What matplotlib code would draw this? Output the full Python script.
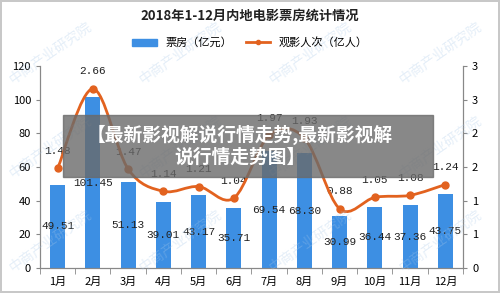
import matplotlib.pyplot as plt
import numpy as np
from matplotlib.path import Path
from matplotlib.patches import PathPatch, Patch, Rectangle
from matplotlib.lines import Line2D
from matplotlib.ticker import FuncFormatter

plt.rcParams['font.family'] = ['Noto Sans CJK SC', 'DejaVu Sans']

# data
months = ["1月", "2月", "3月", "4月", "5月", "6月", "7月", "8月", "9月", "10月", "11月", "12月"]
box_office = [49.51, 101.45, 51.13, 39.01, 43.17, 35.71, 69.54, 68.30, 30.99, 36.44, 37.36, 43.75]
viewers = [1.48, 2.66, 1.47, 1.14, 1.21, 1.04, 1.97, 1.93, 0.88, 1.05, 1.08, 1.24]

BAR_C = "#3d8fe3"
LINE_C = "#e2621f"

fig = plt.figure(figsize=(5, 2.93), dpi=100)
fig.patch.set_edgecolor("#c8c8c8")
fig.patch.set_linewidth(1.5)

ax = fig.add_axes([0.08, 0.085, 0.846, 0.69])
ax2 = ax.twinx()

x = np.arange(len(months))
ax.bar(x, box_office, width=0.43, color=BAR_C, zorder=2)
for xi, v in zip(x, box_office):
    ax.text(xi, v / 2, f"{v:.2f}", ha="center", va="center", fontsize=8,
            family="Liberation Mono", color="#222222", zorder=3)

ax.set_xlim(-0.5, len(months) - 0.5)
ax.set_ylim(0, 120)
ax.set_yticks(range(0, 121, 20))
ax.set_xticks(x)
ax.set_xticklabels(months, fontsize=8)
ax.set_xticks(np.arange(-0.5, len(months)), minor=True)
ax.tick_params(axis="x", which="major", length=0, pad=6)
ax.tick_params(axis="x", which="minor", length=4, color="#888888")
ax.tick_params(axis="y", labelsize=8, length=3, color="#888888")
for s in ["top"]:
    ax.spines[s].set_visible(False)
    ax2.spines[s].set_visible(False)
for s in ["left", "bottom", "right"]:
    ax.spines[s].set_color("#888888")
    ax2.spines[s].set_color("#888888")

# smoothed line drawn as bezier path through the data points
pts = np.column_stack([x, viewers]).astype(float)
verts = [pts[0]]
codes = [Path.MOVETO]
n = len(pts)
for i in range(n - 1):
    p0 = pts[max(i - 1, 0)]
    p1 = pts[i]
    p2 = pts[i + 1]
    p3 = pts[min(i + 2, n - 1)]
    verts += [p1 + (p2 - p0) / 6, p2 - (p3 - p1) / 6, p2]
    codes += [Path.CURVE4] * 3
ax2.add_patch(PathPatch(Path(verts, codes), fill=False, edgecolor=LINE_C, lw=2, zorder=4))
ax2.plot(x, viewers, "o", color=LINE_C, ms=5, zorder=5)
for xi, v in zip(x, viewers):
    ax2.annotate(f"{v:.2f}", (xi, v), xytext=(0, 9), textcoords="offset points",
                 ha="center", va="bottom", fontsize=8, family="Liberation Mono", color="#222222")

ax2.set_ylim(0, 3)
ax2.set_yticks(np.arange(0, 3.01, 0.5))
ax2.yaxis.set_major_formatter(FuncFormatter(lambda v, p: str(int(v + 0.5))))
ax2.tick_params(axis="y", labelsize=8, length=3, color="#888888")

fig.text(0.5, 0.945, "2018年1-12月内地电影票房统计情况", ha="center", va="center",
         fontsize=9.5, fontweight="bold", color="#222222")
handles = [Patch(color=BAR_C), Line2D([], [], color=LINE_C, lw=2, marker="o", ms=3)]
fig.legend(handles, ["票房（亿元）", "观影人次（亿人）"], loc="center", bbox_to_anchor=(0.5, 0.855),
           ncol=2, frameon=False, fontsize=8, handlelength=2.2, handleheight=0.6, columnspacing=1.2)

# watermarks
for wx in [0.1, 0.36, 0.62, 0.88]:
    for wy in [0.18, 0.5, 0.82]:
        fig.text(wx, wy, "中商产业研究院", rotation=35, fontsize=10,
                 color="#a8c8e8", alpha=0.3, ha="center", va="center", zorder=0)

# overlay banner
fig.patches.append(Rectangle((0.126, 0.396), 0.74, 0.212, transform=fig.transFigure,
                             color="#6a6a6a", alpha=0.8, zorder=10))
fig.text(0.48, 0.502, "【最新影视解说行情走势,最新影视解\n说行情走势图】", ha="center", va="center",
         fontsize=13.5, fontweight="bold", color="white", linespacing=1.2, zorder=11)

fig.savefig("out.png", dpi=100)
